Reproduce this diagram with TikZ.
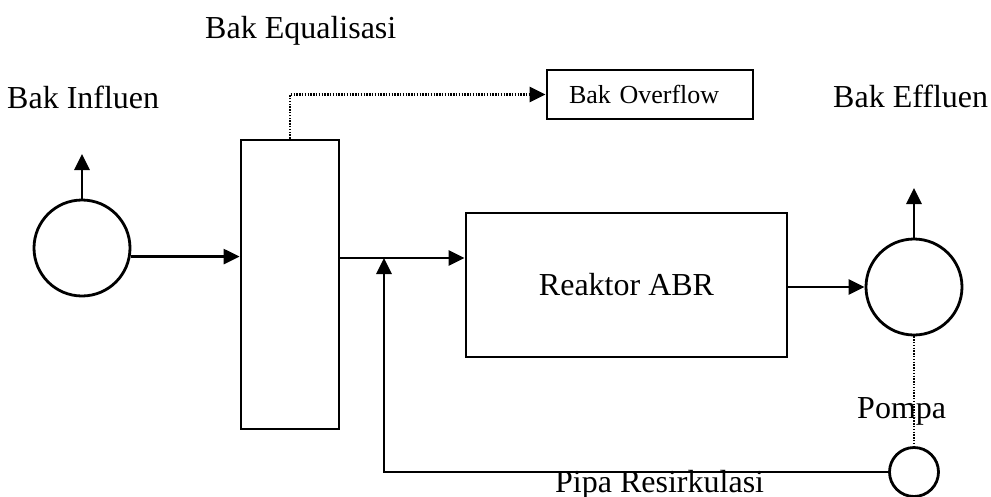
\documentclass[tikz,border=0pt]{standalone}
\usepackage{fontspec}
\setmainfont{Liberation Serif}
\usetikzlibrary{arrows.meta}
\begin{document}
\begin{tikzpicture}[x=1pt,y=-1pt,
  every node/.style={font=\fontsize{32pt}{38pt}\selectfont},
  solidline/.style={line width=2.8pt},
  tank/.style={draw,circle,line width=2.8pt,inner sep=0pt},
  boxnode/.style={draw,rectangle,line width=2.8pt,inner sep=0pt},
  arr/.style={solidline,-{Triangle[length=16pt,width=15pt]}},
  dotline/.style={line width=2.4pt,dash pattern=on 1.4pt off 1.4pt},
  dotarr/.style={dotline,-{Triangle[length=16pt,width=15pt]}},
  lbl/.style={anchor=base west,inner sep=0pt}]
\useasboundingbox (0,0) rectangle (991,496);
% labels
\node[lbl] (teq) at (205,38) {Bak Equalisasi};
\node[lbl] (tin) at (7,108) {Bak Influen};
\node[lbl] (tef) at (833,107) {Bak Effluen};
\node[lbl] (tpo) at (857,418) {Pompa};
\node[lbl] (tpi) at (555,492) {Pipa Resirkulasi};
% units
\node[tank,minimum size=96pt] (infl) at (82,248) {};
\node[boxnode,minimum width=98pt,minimum height=289pt] (eq) at (290,284.5) {};
\node[boxnode,minimum width=206pt,minimum height=49pt,text width=162pt,align=left,inner xsep=22pt,
      font=\fontsize{26pt}{30pt}\selectfont] (ovf) at (650,94.5) {Bak Overflow};
\node[boxnode,minimum width=321pt,minimum height=144pt] (abr) at (626.5,285) {Reaktor ABR};
\node[tank,minimum size=96pt] (effl) at (914,287) {};
\node[tank,minimum size=49pt] (pump) at (914,472) {};
% coordinates
\coordinate (inflout) at (82,154);
\coordinate (effout) at (914,188);
\coordinate (j) at (384,258);
% connectors
\draw[arr] (infl.north) -- (inflout);
\draw[arr] (infl.-10) -- (infl.-10 -| eq.west);
\draw[dotarr] (eq.north) -- (eq.north |- ovf.west) -- (ovf.west);
\draw[arr] (eq.east |- j) -- (abr.west |- j);
\draw[arr] (abr.east |- effl) -- (effl.west);
\draw[arr] (effl.north) -- (effout);
\draw[dotline] (effl.south) -- (pump.north);
\draw[arr] (pump.west) -- (pump.west -| j) -- (j);
\end{tikzpicture}
\end{document}
